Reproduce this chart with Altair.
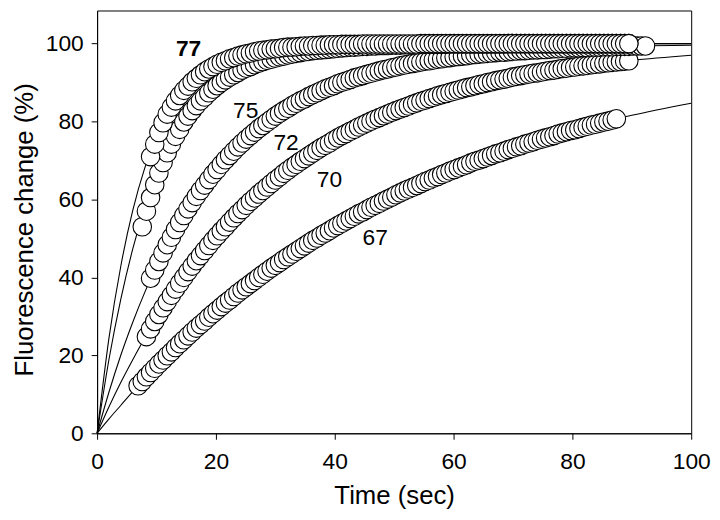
import altair as alt
import pandas as pd

# shared sampling times (sec)
TIME = [
    6.9, 7.6, 8.3, 9.0, 9.7, 10.4, 11.1, 11.8, 12.5, 13.2,
    13.9, 14.6, 15.3, 16.0, 16.7, 17.4, 18.1, 18.8, 19.5, 20.2,
    20.9, 21.6, 22.3, 23.0, 23.7, 24.4, 25.1, 25.8, 26.5, 27.2,
    27.9, 28.6, 29.3, 30.0, 30.7, 31.4, 32.1, 32.8, 33.5, 34.2,
    34.9, 35.6, 36.3, 37.0, 37.7, 38.4, 39.1, 39.8, 40.5, 41.2,
    41.9, 42.6, 43.3, 44.0, 44.7, 45.4, 46.1, 46.8, 47.5, 48.2,
    48.9, 49.6, 50.3, 51.0, 51.7, 52.4, 53.1, 53.8, 54.5, 55.2,
    55.9, 56.6, 57.3, 58.0, 58.7, 59.4, 60.1, 60.8, 61.5, 62.2,
    62.9, 63.6, 64.3, 65.0, 65.7, 66.4, 67.1, 67.8, 68.5, 69.2,
    69.9, 70.6, 71.3, 72.0, 72.7, 73.4, 74.1, 74.8, 75.5, 76.2,
    76.9, 77.6, 78.3, 79.0, 79.7, 80.4, 81.1, 81.8, 82.5, 83.2,
    83.9, 84.6, 85.3, 86.0, 86.7, 87.4, 88.1, 88.8, 89.5, 90.2,
    90.9, 91.6, 92.3,
]

SERIES = ["67", "70", "72", "75", "77"]
START_INDEX = [0, 2, 3, 1, 3]

Y67 = [
    12.2, 13.3, 14.5, 15.6, 16.7, 17.8, 18.8, 19.9, 20.9, 22.0,
    23.0, 24.0, 25.0, 26.0, 27.0, 27.9, 28.8, 29.8, 30.7, 31.6,
    32.5, 33.4, 34.2, 35.1, 36.0, 36.8, 37.6, 38.4, 39.2, 40.0,
    40.8, 41.6, 42.4, 43.1, 43.8, 44.6, 45.3, 46.0, 46.7, 47.4,
    48.1, 48.8, 49.5, 50.1, 50.8, 51.4, 52.0, 52.7, 53.3, 53.9,
    54.5, 55.1, 55.7, 56.3, 56.8, 57.4, 58.0, 58.5, 59.0, 59.6,
    60.1, 60.6, 61.2, 61.7, 62.2, 62.7, 63.1, 63.6, 64.1, 64.6,
    65.0, 65.5, 65.9, 66.4, 66.8, 67.3, 67.7, 68.1, 68.5, 68.9,
    69.4, 69.8, 70.1, 70.5, 70.9, 71.3, 71.7, 72.0, 72.4, 72.8,
    73.1, 73.5, 73.8, 74.2, 74.5, 74.8, 75.2, 75.5, 75.8, 76.1,
    76.4, 76.8, 77.1, 77.4, 77.7, 77.9, 78.2, 78.5, 78.8, 79.1,
    79.3, 79.6, 79.9, 80.1, 80.4, 80.7,
]

Y70 = [
    24.8, 26.8, 28.7, 30.5, 32.2, 33.8, 35.4, 37.0, 38.5, 40.0,
    41.5, 42.9, 44.3, 45.6, 46.9, 48.2, 49.5, 50.7, 51.9, 53.0,
    54.2, 55.3, 56.4, 57.4, 58.5, 59.5, 60.4, 61.4, 62.3, 63.2,
    64.1, 65.0, 65.8, 66.7, 67.5, 68.3, 69.0, 69.8, 70.5, 71.2,
    71.9, 72.6, 73.3, 73.9, 74.5, 75.2, 75.8, 76.4, 76.9, 77.5,
    78.0, 78.6, 79.1, 79.6, 80.1, 80.6, 81.0, 81.5, 81.9, 82.4,
    82.8, 83.2, 83.6, 84.0, 84.4, 84.8, 85.2, 85.5, 85.9, 86.2,
    86.6, 86.9, 87.2, 87.5, 87.8, 88.1, 88.4, 88.7, 88.9, 89.2,
    89.5, 89.7, 90.0, 90.2, 90.5, 90.7, 90.9, 91.1, 91.4, 91.6,
    91.8, 92.0, 92.2, 92.4, 92.5, 92.7, 92.9, 93.1, 93.2, 93.4,
    93.6, 93.7, 93.9, 94.0, 94.2, 94.3, 94.4, 94.6, 94.7, 94.8,
    95.0, 95.1, 95.2, 95.3, 95.4, 95.5, 95.6,
]

Y72 = [
    39.8, 41.9, 44.1, 46.3, 48.4, 50.3, 52.3, 54.1, 55.9, 57.6,
    59.2, 60.8, 62.3, 63.7, 65.1, 66.5, 67.7, 69.0, 70.2, 71.3,
    72.4, 73.5, 74.5, 75.5, 76.4, 77.3, 78.2, 79.0, 79.8, 80.6,
    81.4, 82.1, 82.8, 83.4, 84.1, 84.7, 85.3, 85.8, 86.4, 86.9,
    87.4, 87.9, 88.4, 88.8, 89.2, 89.7, 90.1, 90.4, 90.8, 91.2,
    91.5, 91.8, 92.1, 92.4, 92.7, 93.0, 93.3, 93.5, 93.8, 94.0,
    94.3, 94.5, 94.7, 94.9, 95.1, 95.3, 95.5, 95.6, 95.8, 96.0,
    96.1, 96.3, 96.4, 96.6, 96.7, 96.8, 96.9, 97.1, 97.2, 97.3,
    97.4, 97.5, 97.6, 97.7, 97.8, 97.8, 97.9, 98.0, 98.1, 98.2,
    98.2, 98.3, 98.4, 98.4, 98.5, 98.5, 98.6, 98.7, 98.7, 98.8,
    98.8, 98.9, 98.9, 98.9, 99.0, 99.0, 99.1, 99.1, 99.1, 99.2,
    99.2, 99.2, 99.3, 99.3, 99.3, 99.3, 99.4, 99.4, 99.4, 99.4,
]

Y75 = [
    53.0, 57.0, 60.5, 63.8, 66.8, 69.5, 72.0, 74.2, 76.2, 78.0,
    79.9, 81.4, 82.8, 84.1, 85.3, 86.3, 87.4, 88.3, 89.2, 90.0,
    90.7, 91.4, 92.0, 92.6, 93.2, 93.7, 94.1, 94.6, 95.0, 95.4,
    95.7, 96.0, 96.3, 96.6, 96.8, 97.1, 97.3, 97.5, 97.7, 97.9,
    98.0, 98.2, 98.3, 98.4, 98.5, 98.6, 98.7, 98.8, 98.9, 99.0,
    99.1, 99.1, 99.2, 99.3, 99.3, 99.4, 99.4, 99.5, 99.5, 99.5,
    99.6, 99.6, 99.6, 99.7, 99.7, 99.7, 99.7, 99.8, 99.8, 99.8,
    99.8, 99.8, 99.8, 99.8, 99.9, 99.9, 99.9, 99.9, 99.9, 99.9,
    99.9, 99.9, 99.9, 99.9, 99.9, 99.9, 99.9, 99.9, 100.0, 100.0,
    100.0, 100.0, 100.0, 100.0, 100.0, 100.0, 100.0, 100.0, 100.0, 100.0,
    100.0, 100.0, 100.0, 100.0, 100.0, 100.0, 100.0, 100.0, 100.0, 100.0,
    100.0, 100.0, 100.0, 100.0, 100.0, 100.0, 100.0, 100.0,
]

Y77 = [
    71.0, 74.2, 77.2, 79.7, 81.9, 83.7, 85.3, 86.7, 88.0, 89.1,
    90.2, 91.1, 92.0, 92.8, 93.5, 94.1, 94.7, 95.2, 95.6, 96.1,
    96.4, 96.8, 97.1, 97.4, 97.6, 97.9, 98.1, 98.3, 98.4, 98.6,
    98.7, 98.8, 99.0, 99.1, 99.1, 99.2, 99.3, 99.4, 99.4, 99.5,
    99.5, 99.6, 99.6, 99.7, 99.7, 99.7, 99.8, 99.8, 99.8, 99.8,
    99.8, 99.9, 99.9, 99.9, 99.9, 99.9, 99.9, 99.9, 99.9, 99.9,
    99.9, 99.9, 99.9, 99.9, 99.9, 100.0, 100.0, 100.0, 100.0, 100.0,
    100.0, 100.0, 100.0, 100.0, 100.0, 100.0, 100.0, 100.0, 100.0, 100.0,
    100.0, 100.0, 100.0, 100.0, 100.0, 100.0, 100.0, 100.0, 100.0, 100.0,
    100.0, 100.0, 100.0, 100.0, 100.0, 100.0, 100.0, 100.0, 100.0, 100.0,
    100.0, 100.0, 100.0, 100.0, 100.0, 100.0, 100.0, 100.0, 100.0, 100.0,
    100.0, 100.0, 100.0, 100.0, 100.0, 100.0,
]

# fitted curves
FIT_T = [0, 2, 4, 6, 8, 10, 12, 14, 16, 18, 20, 25, 30, 35, 40, 50, 60, 70, 80, 90, 100]
FIT67 = [0, 3.7, 7.2, 10.7, 14.0, 17.1, 20.2, 23.1, 26.0, 28.7, 31.3, 37.5, 43.1, 48.2, 52.9, 60.9, 67.6, 73.2, 77.8, 81.6, 84.7]
FIT70 = [0, 6.8, 13.1, 18.9, 24.4, 29.5, 34.3, 38.7, 42.9, 46.7, 50.3, 58.3, 65.0, 70.6, 75.3, 82.6, 87.8, 91.4, 93.9, 95.7, 97.0]
FIT72 = [0, 10.6, 20.1, 28.5, 36.1, 42.9, 48.9, 54.3, 59.2, 63.5, 67.4, 75.3, 81.4, 85.9, 89.4, 93.9, 96.5, 98.0, 98.9, 99.4, 99.6]
FIT75 = [0, 19.0, 34.5, 47.3, 57.8, 66.2, 73.0, 78.5, 82.8, 86.2, 88.9, 93.6, 96.3, 97.9, 98.8, 99.6, 99.9, 100.0, 100.0, 100.0, 100.0]
FIT77 = [0, 24.5, 43.0, 57.2, 68.0, 76.2, 82.4, 86.9, 90.2, 92.6, 94.5, 97.3, 98.7, 99.4, 99.7, 99.9, 100.0, 100.0, 100.0, 100.0, 100.0]

# series labels
LABEL_TEXT = ["67", "70", "72", "75", "77"]
LABEL_T = [46.8, 39.1, 31.8, 25.0, 15.4]
LABEL_Y = [50.0, 65.1, 74.6, 82.6, 98.6]
LABEL_BOLD = [False, False, False, False, True]

VALUES = [Y67, Y70, Y72, Y75, Y77]
FITS = [FIT67, FIT70, FIT72, FIT75, FIT77]

pt_rows = []
for name, start, vals in zip(SERIES, START_INDEX, VALUES):
    for i, v in enumerate(vals):
        pt_rows.append({"series": name, "t": TIME[start + i], "y": v, "ord": len(pt_rows)})
points = pd.DataFrame(pt_rows)

fit_rows = []
for name, vals in zip(SERIES, FITS):
    for t, v in zip(FIT_T, vals):
        fit_rows.append({"series": name, "t": t, "y": v})
fits = pd.DataFrame(fit_rows)

labels = pd.DataFrame({"text": LABEL_TEXT, "t": LABEL_T, "y": LABEL_Y, "bold": LABEL_BOLD})

FONT = "Liberation Sans"

x_enc = alt.X(
    "t:Q",
    scale=alt.Scale(domain=[0, 100], nice=False, zero=True),
    axis=alt.Axis(
        values=[0, 20, 40, 60, 80, 100],
        title="Time (sec)",
        tickSize=6,
        labelPadding=30,
        labelBaseline="alphabetic",
        labelFlush=False,
        labelOverlap=False,
        titleY=71,
        titleBaseline="alphabetic",
    ),
)
y_enc = alt.Y(
    "y:Q",
    scale=alt.Scale(domain=[0, 108.5], nice=False, zero=True),
    axis=alt.Axis(
        values=[0, 20, 40, 60, 80, 100],
        title="Fluorescence change (%)",
        tickSize=6,
        labelPadding=8,
        labelFlush=False,
        labelOverlap=False,
        titleX=-65,
        titleY=221,
        titleAngle=270,
        titleAlign="center",
        titleBaseline="alphabetic",
    ),
)

lines = alt.Chart(fits).mark_line(
    color="black", strokeWidth=1.1, interpolate="monotone"
).encode(x=x_enc, y=y_enc, detail="series:N")

circles = alt.Chart(points).mark_point(
    shape="circle", size=350, filled=True, fill="white", stroke="black",
    strokeWidth=1.1, opacity=1, fillOpacity=1, strokeOpacity=1,
).encode(x=x_enc, y=y_enc, detail="series:N", order=alt.Order("ord:Q"))

txt_normal = alt.Chart(labels).transform_filter("!datum.bold").mark_text(
    font=FONT, fontSize=23, color="black", align="center", baseline="middle"
).encode(x=x_enc, y=y_enc, text="text:N")

txt_bold = alt.Chart(labels).transform_filter("datum.bold").mark_text(
    font=FONT, fontSize=23, fontWeight="bold", color="black", align="center", baseline="middle"
).encode(x=x_enc, y=y_enc, text="text:N")

chart = alt.layer(lines, circles, txt_normal, txt_bold).properties(
    width=600,
    height=427,
    autosize=alt.AutoSizeParams(type="none"),
    padding={"left": 90, "top": 0, "right": 21, "bottom": 80},
).configure_view(
    stroke="black", strokeWidth=1
).configure_axis(
    grid=False,
    domainColor="black",
    domainWidth=1,
    tickColor="black",
    tickWidth=1,
    labelColor="black",
    titleColor="black",
    labelFont=FONT,
    titleFont=FONT,
    labelFontSize=23,
    titleFontSize=26,
    titleFontWeight="normal",
)

chart.save("out.html", embed_options={"renderer": "svg", "actions": False})
